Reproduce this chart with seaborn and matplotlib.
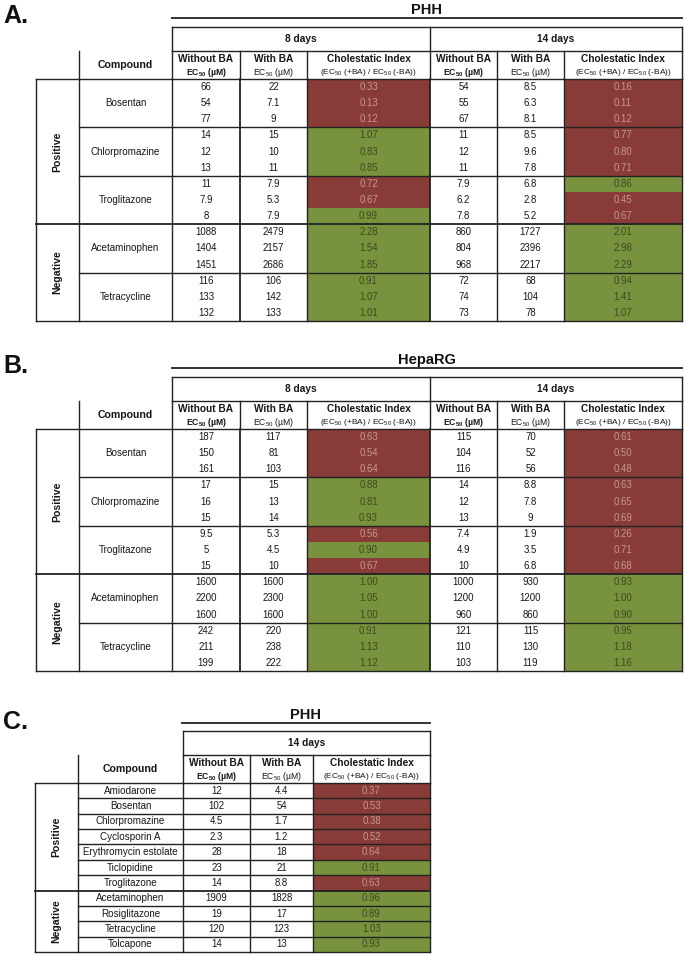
import numpy as np
import pandas as pd
import matplotlib
matplotlib.use("Agg")
import matplotlib.pyplot as plt
from matplotlib.colors import ListedColormap, BoundaryNorm
import seaborn as sns

# ---------------- data ----------------
ab_compounds = ["Bosentan", "Chlorpromazine", "Troglitazone", "Acetaminophen", "Tetracycline"]
ab_classes = ["Positive", "Negative"]
ab_class_sizes = [3, 2]  # compounds per class

phh_8d_without = [66, 54, 77, 14, 12, 13, 11, 7.9, 8, 1088, 1404, 1451, 116, 133, 132]
phh_8d_with = [22, 7.1, 9, 15, 10, 11, 7.9, 5.3, 7.9, 2479, 2157, 2686, 106, 142, 133]
phh_8d_ci = [0.33, 0.13, 0.12, 1.07, 0.83, 0.85, 0.72, 0.67, 0.99, 2.28, 1.54, 1.85, 0.91, 1.07, 1.01]
phh_14d_without = [54, 55, 67, 11, 12, 11, 7.9, 6.2, 7.8, 860, 804, 968, 72, 74, 73]
phh_14d_with = [8.5, 6.3, 8.1, 8.5, 9.6, 7.8, 6.8, 2.8, 5.2, 1727, 2396, 2217, 68, 104, 78]
phh_14d_ci = [0.16, 0.11, 0.12, 0.77, 0.80, 0.71, 0.86, 0.45, 0.67, 2.01, 2.98, 2.29, 0.94, 1.41, 1.07]

hep_8d_without = [187, 150, 161, 17, 16, 15, 9.5, 5, 15, 1600, 2200, 1600, 242, 211, 199]
hep_8d_with = [117, 81, 103, 15, 13, 14, 5.3, 4.5, 10, 1600, 2300, 1600, 220, 238, 222]
hep_8d_ci = [0.63, 0.54, 0.64, 0.88, 0.81, 0.93, 0.56, 0.90, 0.67, 1.00, 1.05, 1.00, 0.91, 1.13, 1.12]
hep_14d_without = [115, 104, 116, 14, 12, 13, 7.4, 4.9, 10, 1000, 1200, 960, 121, 110, 103]
hep_14d_with = [70, 52, 56, 8.8, 7.8, 9, 1.9, 3.5, 6.8, 930, 1200, 860, 115, 130, 119]
hep_14d_ci = [0.61, 0.50, 0.48, 0.63, 0.65, 0.69, 0.26, 0.71, 0.68, 0.93, 1.00, 0.90, 0.95, 1.18, 1.16]

c_compounds = ["Amiodarone", "Bosentan", "Chlorpromazine", "Cyclosporin A", "Erythromycin estolate",
               "Ticlopidine", "Troglitazone", "Acetaminophen", "Rosiglitazone", "Tetracycline", "Tolcapone"]
c_class_sizes = [7, 4]
c_without = [12, 102, 4.5, 2.3, 28, 23, 14, 1909, 19, 120, 14]
c_with = [4.4, 54, 1.7, 1.2, 18, 21, 8.8, 1828, 17, 123, 13]
c_ci = [0.37, 0.53, 0.38, 0.52, 0.64, 0.91, 0.63, 0.96, 0.89, 1.03, 0.93]

CI_THRESHOLD = 0.80  # index <= threshold shown red, otherwise green

# ---------------- style ----------------
sns.set_theme(style="white")
SANS = ["Liberation Sans", "DejaVu Sans"]
NARROW = ["Liberation Sans Narrow", "Liberation Sans", "DejaVu Sans"]
plt.rcParams["font.family"] = SANS
plt.rcParams["mathtext.fontset"] = "custom"
plt.rcParams["mathtext.rm"] = "Liberation Sans"
plt.rcParams["mathtext.bf"] = "Liberation Sans:bold"
plt.rcParams["mathtext.it"] = "Liberation Sans:italic"
plt.rcParams["mathtext.default"] = "rm"

RED = "#893b38"
GREEN = "#78923d"
RED_TXT = "#c59794"
GREEN_TXT = "#3c4822"
LINE = "#222222"
TXT = "#161616"
cmap = ListedColormap([RED, GREEN])
norm = BoundaryNorm([-1, CI_THRESHOLD + 0.005, 100], 2)

F_NUM = 6.9
F_NAME = 7.1
F_HEAD = 7.3
F_EC = 6.2
F_SUB = 6.0

W, H = 685, 955
fig = plt.figure(figsize=(W / 100, H / 100), dpi=100)
ax = fig.add_axes([0, 0, 1, 1])
ax.set_xlim(0, W)
ax.set_ylim(H, 0)
ax.axis("off")
ax.set_zorder(5)
ax.patch.set_visible(False)


def hl(x0, x1, y, lw=1.0, c=LINE):
    ax.plot([x0, x1], [y, y], color=c, lw=lw, solid_capstyle="projecting")


def vl(x, y0, y1, lw=1.0, c=LINE):
    ax.plot([x, x], [y0, y1], color=c, lw=lw, solid_capstyle="projecting")


def fmt(v):
    return f"{v:g}"


def ci_heat(x0, x1, y0, y1, ci):
    hax = fig.add_axes([x0 / W, 1 - y1 / H, (x1 - x0) / W, (y1 - y0) / H])
    df = pd.DataFrame({"CI": ci})
    annot = np.array([[f"{v:.2f}"] for v in ci])
    sns.heatmap(df, ax=hax, cmap=cmap, norm=norm, annot=annot, fmt="", cbar=False,
                xticklabels=False, yticklabels=False, linewidths=0,
                annot_kws=dict(fontsize=F_NUM, family=NARROW))
    for t, v in zip(hax.texts, ci):
        t.set_color(RED_TXT if v <= CI_THRESHOLD else GREEN_TXT)
    hax.set_axis_off()


def header2(xs, ymid):
    y1, y2 = ymid - 6.5, ymid + 7.5
    ax.text((xs[0] + xs[1]) / 2, ymid, "Compound", fontsize=7.6, fontweight="bold",
            ha="center", va="center", color=TXT)
    k = 1
    while k + 3 <= len(xs) - 1:
        cx1 = (xs[k] + xs[k + 1]) / 2
        cx2 = (xs[k + 1] + xs[k + 2]) / 2
        cx3 = (xs[k + 2] + xs[k + 3]) / 2
        ax.text(cx1, y1, "Without BA", fontsize=F_HEAD, fontweight="bold", ha="center", va="center", color=TXT)
        ax.text(cx1, y2, r"$\mathbf{EC_{50}}$ (µM)", fontsize=F_EC, fontweight="bold", ha="center", va="center", color=TXT)
        ax.text(cx2, y1, "With BA", fontsize=F_HEAD, fontweight="bold", ha="center", va="center", color=TXT)
        ax.text(cx2, y2, r"EC$_{50}$ (µM)", fontsize=F_EC, ha="center", va="center", color=TXT)
        ax.text(cx3, y1, "Cholestatic Index", fontsize=F_HEAD, fontweight="bold", ha="center", va="center", color=TXT)
        ax.text(cx3, y2, r"(EC$_{50}$ (+BA) / EC$_{50}$ (-BA))", fontsize=F_SUB, ha="center", va="center",
                color=TXT, family=NARROW)
        k += 3


def panel_ab(dy, letter, title, blocks):
    xs = [36, 79, 172, 240, 307, 430, 497, 564, 682]
    t1, t2, t3, bot = 27 + dy, 51 + dy, 79 + dy, 321 + dy
    n = len(blocks[0][0])
    rh = (bot - t3) / n
    ax.text(3, 23 + dy, letter, fontsize=18, fontweight="bold", ha="left", va="baseline", color="#111111")
    ax.text((xs[2] + xs[-1]) / 2, 13.5 + dy, title, fontsize=10.5, fontweight="bold", ha="center",
            va="baseline", color="#111111")
    hl(xs[2], xs[-1], 18 + dy, lw=1.4, c="#333333")
    # header row 1
    hl(xs[2], xs[-1], t1)
    hl(xs[2], xs[-1], t2)
    for x in (xs[2], xs[5], xs[8]):
        vl(x, t1, t2)
    ax.text((xs[2] + xs[5]) / 2, (t1 + t2) / 2, "8 days", fontsize=F_HEAD, fontweight="bold", ha="center", va="center", color=TXT)
    ax.text((xs[5] + xs[8]) / 2, (t1 + t2) / 2, "14 days", fontsize=F_HEAD, fontweight="bold", ha="center", va="center", color=TXT)
    # header row 2
    for x in xs[1:]:
        vl(x, t2, t3)
    header2(xs[1:], (t2 + t3) / 2)
    # heatmaps
    ci_heat(xs[4], xs[5], t3, bot, blocks[0][2])
    ci_heat(xs[7], xs[8], t3, bot, blocks[1][2])
    # data lines
    hl(xs[0], xs[-1], t3)
    hl(xs[0], xs[-1], bot)
    for x in xs:
        vl(x, t3, bot, lw=1.3 if x in (xs[3], xs[5]) else 1.0)
    ncomp = len(ab_compounds)
    per = n // ncomp
    for g in range(1, ncomp):
        y = t3 + g * per * rh
        x0 = xs[0] if g == ab_class_sizes[0] else xs[1]
        hl(x0, xs[-1], y, lw=1.3 if g == ab_class_sizes[0] else 1.0)
    # texts
    for g, name in enumerate(ab_compounds):
        ax.text((xs[1] + xs[2]) / 2, t3 + (g * per + per / 2) * rh, name, fontsize=F_NAME,
                ha="center", va="center", color=TXT, family=NARROW)
    start = 0
    for cls, size in zip(ab_classes, ab_class_sizes):
        yc = t3 + (start + size / 2) * per * rh
        ax.text((xs[0] + xs[1]) / 2, yc, cls, fontsize=7.6, fontweight="bold", rotation=90,
                ha="center", va="center", color=TXT)
        start += size
    for b, (wo, wi, _) in enumerate(blocks):
        cx_wo = (xs[2 + 3 * b] + xs[3 + 3 * b]) / 2
        cx_wi = (xs[3 + 3 * b] + xs[4 + 3 * b]) / 2
        for i in range(n):
            y = t3 + (i + 0.5) * rh
            ax.text(cx_wo, y, fmt(wo[i]), fontsize=F_NUM, ha="center", va="center", color=TXT, family=NARROW)
            ax.text(cx_wi, y, fmt(wi[i]), fontsize=F_NUM, ha="center", va="center", color=TXT, family=NARROW)


panel_ab(0, "A.", "PHH", [(phh_8d_without, phh_8d_with, phh_8d_ci),
                          (phh_14d_without, phh_14d_with, phh_14d_ci)])
panel_ab(350, "B.", "HepaRG", [(hep_8d_without, hep_8d_with, hep_8d_ci),
                               (hep_14d_without, hep_14d_with, hep_14d_ci)])

# ---------------- panel C ----------------
xs = [35, 78, 183, 250, 313, 430]
t1, t2, t3, bot = 731, 755, 783, 952
n = len(c_compounds)
rh = (bot - t3) / n
ax.text(3, 729, "C.", fontsize=18, fontweight="bold", ha="left", va="baseline", color="#111111")
ax.text((182 + xs[-1]) / 2, 718.5, "PHH", fontsize=10.5, fontweight="bold", ha="center", va="baseline", color="#111111")
hl(182, xs[-1], 723, lw=1.4, c="#333333")
hl(xs[2], xs[-1], t1)
hl(xs[2], xs[-1], t2)
vl(xs[2], t1, t2)
vl(xs[-1], t1, t2)
ax.text((xs[2] + xs[-1]) / 2, (t1 + t2) / 2, "14 days", fontsize=F_HEAD, fontweight="bold", ha="center", va="center", color=TXT)
for x in xs[1:]:
    vl(x, t2, t3)
header2(xs[1:], (t2 + t3) / 2)
ci_heat(xs[4], xs[5], t3, bot, c_ci)
hl(xs[0], xs[-1], t3)
hl(xs[0], xs[-1], bot)
for x in xs:
    vl(x, t3, bot)
for i in range(1, n):
    y = t3 + i * rh
    x0 = xs[0] if i == c_class_sizes[0] else xs[1]
    hl(x0, xs[-1], y, lw=1.3 if i == c_class_sizes[0] else 1.0)
for i, name in enumerate(c_compounds):
    y = t3 + (i + 0.5) * rh
    ax.text((xs[1] + xs[2]) / 2, y, name, fontsize=F_NAME, ha="center", va="center", color=TXT, family=NARROW)
    ax.text((xs[2] + xs[3]) / 2, y, fmt(c_without[i]), fontsize=F_NUM, ha="center", va="center", color=TXT, family=NARROW)
    ax.text((xs[3] + xs[4]) / 2, y, fmt(c_with[i]), fontsize=F_NUM, ha="center", va="center", color=TXT, family=NARROW)
start = 0
for cls, size in zip(ab_classes, c_class_sizes):
    yc = t3 + (start + size / 2) * rh
    ax.text((xs[0] + xs[1]) / 2, yc, cls, fontsize=7.6, fontweight="bold", rotation=90,
            ha="center", va="center", color=TXT)
    start += size

fig.savefig("out.png", dpi=100, facecolor="white")
